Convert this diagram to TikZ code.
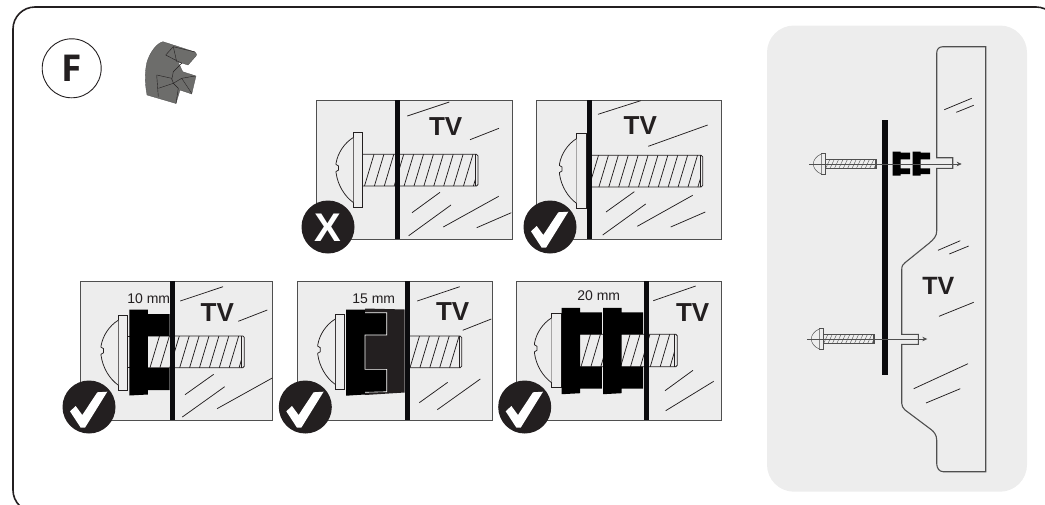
\documentclass[tikz,border=0pt]{standalone}
\usepackage{fontspec}
\usetikzlibrary{arrows.meta}
\setmainfont{Liberation Sans}
\newfontfamily\letterfont{Open Sans}
\definecolor{panelgray}{HTML}{EDEDED}
\definecolor{inkblack}{HTML}{0B0B0E}
\definecolor{darkfill}{HTML}{231F20}
\definecolor{nutgray}{HTML}{6D6D6B}
\definecolor{rimgray}{HTML}{4F4F4F}
\tikzset{
  framebox/.style={draw=darkfill,line width=1.6pt,rounded corners=22pt},
  bigpanel/.style={fill=panelgray,rounded corners=27pt},
  smallpanel/.style={fill=panelgray,draw=rimgray,line width=0.9pt},
  wallbar/.style={fill=inkblack},
  crack/.style={draw=darkfill,line width=0.75pt},
  washerbox/.style={fill=panelgray,draw=darkfill,line width=0.7pt},
  thread/.style={draw=darkfill,line width=0.75pt},
  spacer/.style={fill=black},
  tvlabel/.style={font=\bfseries\fontsize{26}{26}\selectfont,text=darkfill,inner sep=0pt},
  mmlabel/.style={font=\fontsize{14}{14}\selectfont,text=darkfill,inner sep=0pt},
  badge/.style={circle,fill=darkfill,minimum size=53pt,inner sep=0pt},
  tvoutline/.style={draw=rimgray,line width=1.1pt,fill=panelgray},
  axisline/.style={draw=rimgray,line width=0.7pt},
  thinpart/.style={draw=rimgray,line width=0.45pt,fill=panelgray},
}
% head: washer left x, centre y
\newcommand{\headpart}[2]{%
  \draw[washerbox] (#1,#2-37.3) rectangle ++(9.4,74.6);
  \draw[thread,fill=panelgray] (#1,#2-32.5) .. controls (#1-9,#2-27) and (#1-15.5,#2-17) .. (#1-17.2,#2-7)
    -- ++(0,1.5) -- ++(2.5,1.5) -- ++(0,4) -- ++(-2.5,1.5) -- ++(0,1.5) .. controls (#1-15.5,#2+15) and (#1-9,#2+26) .. (#1,#2+32.5);
}
% shank: x start, x end, y top, y bottom, first hatch x
\newcommand{\shankpart}[5]{%
  \fill[panelgray] (#1,#3) rectangle (#2,#4);
  \begin{scope}
    \clip (#1,#3) rectangle (#2-2.5,#4);
    \foreach \k in {0,...,14} {\draw[thread] (#5+\k*9.9,#4) -- ++(9.5,#3-#4);}
  \end{scope}
  \draw[thread] (#1,#3) -- (#2-1.5,#3) -- (#2,#3+1.5) -- (#2,#4-1.5) -- (#2-1.5,#4) -- (#1,#4);
  \draw[thread] (#2-2.5,#3) -- (#2-2.5,#4);
}
% spacer: flange left, centre y of shank, y top of shank, y bottom of shank
\newcommand{\spacerpart}[4]{%
  \fill[spacer] (#1,#3-26.5) -- (#1+18.5,#3-26.5) -- (#1+18.5,#3-22) -- (#1+40.2,#3-22) -- (#1+40.2,#3)
    -- (#1+18.5,#3) -- (#1+18.5,#4) -- (#1+40.2,#4) -- (#1+40.2,#4+22) -- (#1+18.5,#4+22)
    -- (#1+18.5,#4+26.5) -- (#1,#4+27.5) -- cycle;
}
\newcommand{\okmark}[1]{%
  \fill[white] (#1) ++(-19,4.3) -- ++(5.7,-5.3) -- ++(6.6,9) -- ++(15,-22.7) -- ++(10,-0.6)
     -- ++(-22.3,36) -- ++(-4.3,0) -- cycle;
}
\begin{document}
\begin{tikzpicture}[x=1pt,y=-1pt]
\useasboundingbox (0,0) rectangle (1045,504);
\begin{scope}
\clip (0,0) rectangle (1045,504);
\draw[framebox] (13,7) rectangle (1058,512);
\end{scope}

% letter and nut
\node[circle,draw=darkfill,line width=0.9pt,minimum size=59pt,inner sep=0pt,font=\letterfont\bfseries\fontsize{37}{37}\selectfont,text=darkfill] (letter) at (71.7,68.3) {F};
\fill[nutgray,draw=rimgray,line width=0.3pt] (163,41.7) -- (195,52) .. controls (197,54) and (197,55) .. (196,56) -- (188,65) -- (178,61.7) -- (182.7,71.7) -- (196,76) -- (191.7,94) -- (180,90) -- (176,103.5) -- (147,95)
   .. controls (144.5,82) and (145,70) .. (147,62) .. controls (150,52) and (157,43) .. (163,41.7) -- cycle;
\draw[darkfill,line width=0.4pt] (165.7,55) -- (173.3,46.7) -- (195,52) (173.3,46.7) -- (176.7,61.7) (165.7,55) -- (181.7,63.3) -- (173.3,71.7) -- (171.7,80)
  (156.7,75) -- (158.3,96.7) (156.7,75) -- (171.7,78.3) -- (173.3,83.3) (158.3,88.3) -- (173.3,83.3) -- (178.3,88.3) -- (176,103.5)
  (181.7,78.3) -- (191.7,93.3) (173.3,83.3) -- (181.7,78.3) -- (195,76);

% panel A
\path[smallpanel] (316.7,100) rectangle (512,239);
\foreach \a/\b/\c/\d in {407.3/116/449.3/102, 470/139.7/499/128.3, 412/212.7/440/192.3, 408.7/235.7/451/205, 443.3/227/498.7/196.3, 476.7/227.7/511.3/212.7}
  \draw[crack] (\a,\b) -- (\c,\d);
\node[tvlabel] (tva) at (445.7,127) {TV};
\shankpart{362.7}{478}{154.3}{186}{364.5}
\headpart{353.3}{170}
\fill[wallbar] (395,100) rectangle (399.7,239);
\node[badge] (bada) at (328,227) {};
\node[font=\bfseries\fontsize{40}{40}\selectfont,text=white,inner sep=0pt] (xmark) at (328,227.5) {X};

% panel B
\path[smallpanel] (536.7,100) rectangle (721.3,239);
\foreach \a/\b/\c/\d in {598/114.3/640.7/100.7, 648.3/146.3/707.7/125, 606/212/634.3/191.7, 602.7/235/645.7/204, 637.3/226.3/692.7/195.3, 670.7/227/705.3/212}
  \draw[crack] (\a,\b) -- (\c,\d);
\node[tvlabel] (tvb) at (640.3,125.5) {TV};
\shankpart{591.7}{702.7}{155.3}{187}{589}
\draw[thread] (586.3,155.3) -- (591.7,155.3) (586.3,187) -- (591.7,187);
\headpart{576.7}{171}
\fill[wallbar] (587,100) rectangle (591.7,239);
\node[badge] (badb) at (550,227) {};
\okmark{550,227}

% panel C
\path[smallpanel] (80,281) rectangle (272.3,420);
\foreach \a/\b/\c/\d in {180.3/301/223/286.7, 238.3/321.3/267.3/310, 185/394.7/213.7/374.3, 182.3/417/224.7/386.7, 217/408.7/272.3/378}
  \draw[crack] (\a,\b) -- (\c,\d);
\node[tvlabel] (tvc) at (217.3,312.5) {TV};
\node[mmlabel] (mmc) at (148.7,298.5) {10 mm};
\shankpart{147.7}{244.3}{336}{367.7}{150}
\headpart{118.3}{352.7}
\draw[thread] (127.7,336) -- (129.5,336) (127.7,367.7) -- (129.5,367.7);
\spacerpart{129.3}{352}{336}{368}
\fill[wallbar] (170,281) rectangle (174.7,420);
\node[badge] (badc) at (89,407) {};
\okmark{89,407}

% panel D
\path[smallpanel] (297.3,281) rectangle (492.3,420);
\foreach \a/\b/\c/\d in {417.3/301/459.7/286.7, 462.7/330.3/491.3/319, 419.3/402.7/447.7/382.3, 437.3/409.7/480.3/379}
  \draw[crack] (\a,\b) -- (\c,\d);
\node[tvlabel] (tvd) at (452.7,312) {TV};
\node[mmlabel] (mmd) at (373.7,298.5) {15 mm};
\shankpart{409.3}{461.7}{336}{367.7}{410}
\headpart{335}{351.7}
\fill[darkfill] (365,308.5) -- (404.7,309.5) -- (404.7,392.5) -- (365,395) -- cycle;
\fill[black] (346,309.5) -- (365,309.5) -- (365,312.7) -- (386.7,312.7) -- (386.7,335) -- (365,335) -- (365,369.3) -- (386.7,369.3) -- (386.7,391.7) -- (365,392.3) -- (365,394.5) -- (346,395.7) -- cycle;
\draw[white,line width=0.6pt] (365,312.7) -- (386.7,312.7) -- (386.7,335) -- (365,335) -- (365,369.3) -- (386.7,369.3) -- (386.7,391.7) -- (365,392.3);
\fill[wallbar] (405,281) rectangle (409.7,420);
\node[badge] (badd) at (305.3,407) {};
\okmark{305.3,407}

% panel E
\path[smallpanel] (516,281) rectangle (721,420);
\foreach \a/\b/\c/\d in {653.3/300.7/695.7/286, 665/390.7/693/370.3, 665.7/410.7/713.7/381.3}
  \draw[crack] (\a,\b) -- (\c,\d);
\node[tvlabel] (tve) at (692.7,312.5) {TV};
\node[mmlabel] (mme) at (598.7,296) {20 mm};
\shankpart{580}{677.3}{334.3}{366.7}{581}
\headpart{551.7}{350.3}
\draw[thread] (561,334.3) -- (562,334.3) (561,366.7) -- (562,366.7);
\spacerpart{561.7}{350}{334.3}{366.7}
\spacerpart{603}{350}{334.3}{366.7}
\fill[wallbar] (644,281) rectangle (648.7,420);
\node[badge] (bade) at (524.7,407) {};
\okmark{524.7,407}

% right panel
\path[bigpanel] (767,25.5) rectangle (1027,491.7);
\draw[tvoutline] (943,46.7) -- (985.7,46.7) -- (985.7,471.7) -- (943.3,471.7)
  .. controls (939,471.7) and (936.7,468) .. (936.7,463.3) -- (936.7,440) .. controls (936.7,435) and (934,432) .. (931.7,430)
  -- (905,410) .. controls (903,408) and (901.7,406) .. (901.7,403.3) -- (901.7,344.3) -- (918.3,344.3) -- (918.3,334.3) -- (901.7,334.3)
  -- (901.7,270) .. controls (901.7,266) and (903,264) .. (905,262.7) -- (929,243.3) .. controls (934,239) and (936.7,236) .. (936.7,231)
  -- (936.7,168.3) -- (952.7,168.3) -- (952.7,157.7) -- (936.7,157.7) -- (936.7,53.3) .. controls (936.7,49) and (939,46.7) .. (943,46.7) -- cycle;
\foreach \a/\b/\c/\d in {944.3/109.7/971.7/98.3, 956.3/112.3/973.7/105.3, 938/250.3/960.3/240.7, 949.3/254/968.7/246, 939/316.3/973.7/302.3, 913.7/388.7/968/363.7, 926/403/960.3/388.7}
  \draw[crack] (\a,\b) -- (\c,\d);
\node[tvlabel,font=\bfseries\fontsize{25}{25}\selectfont] (tvf) at (938.3,285.5) {TV};

% small screws
\foreach \wl/\cy/\sh/\se in {821.3/164/825.7/876.7, 819.3/339/823.7/874.7} {
  \draw[thinpart] (\wl,\cy-10.7) rectangle ++(4.4,21.4);
  \draw[thinpart] (\wl,\cy-10) .. controls (\wl-5,\cy-8) and (\wl-8,\cy-4) .. (\wl-8,\cy) .. controls (\wl-8,\cy+4) and (\wl-5,\cy+8) .. (\wl,\cy+10);
  \draw[thinpart] (\sh,\cy-4.3) rectangle (\se,\cy+4.3);
  \begin{scope}
    \clip (\sh,\cy-4.3) rectangle (\se,\cy+4.3);
    \foreach \k in {0,...,11} {\draw[rimgray,line width=0.4pt] (\sh+\k*4.4,\cy+4.3) -- ++(4,-8.6);}
  \end{scope}
  \fill[rimgray] (\se-2,\cy-4.3) rectangle (\se,\cy+4.3);
}
\coordinate (upaxa) at (809.3,164);
\coordinate (upaxb) at (961.7,164);
\coordinate (loaxa) at (807.3,339);
\coordinate (loaxb) at (927.3,339);
\fill[wallbar] (882,120) rectangle (888,375);
\fill[spacer] (892.7,151.7) -- (900.7,151.7) -- (900.7,152.7) -- (910,152.7) -- (910,159.3) -- (900.7,159.3) -- (900.7,168.3) -- (910,168.3) -- (910,174) -- (900.7,174) -- (900.7,175.7) -- (892.7,175.7) -- cycle;
\fill[spacer] (912.7,151.7) -- (920.7,151.7) -- (920.7,152.7) -- (930,152.7) -- (930,159.3) -- (920.7,159.3) -- (920.7,168.3) -- (930,168.3) -- (930,174) -- (920.7,174) -- (920.7,175.7) -- (912.7,175.7) -- cycle;
\draw[axisline,-{Stealth[length=5pt,width=4.5pt]}] (upaxa) -- (upaxb);
\draw[axisline,-{Stealth[length=5pt,width=4.5pt]}] (loaxa) -- (loaxb);
\end{tikzpicture}
\end{document}
